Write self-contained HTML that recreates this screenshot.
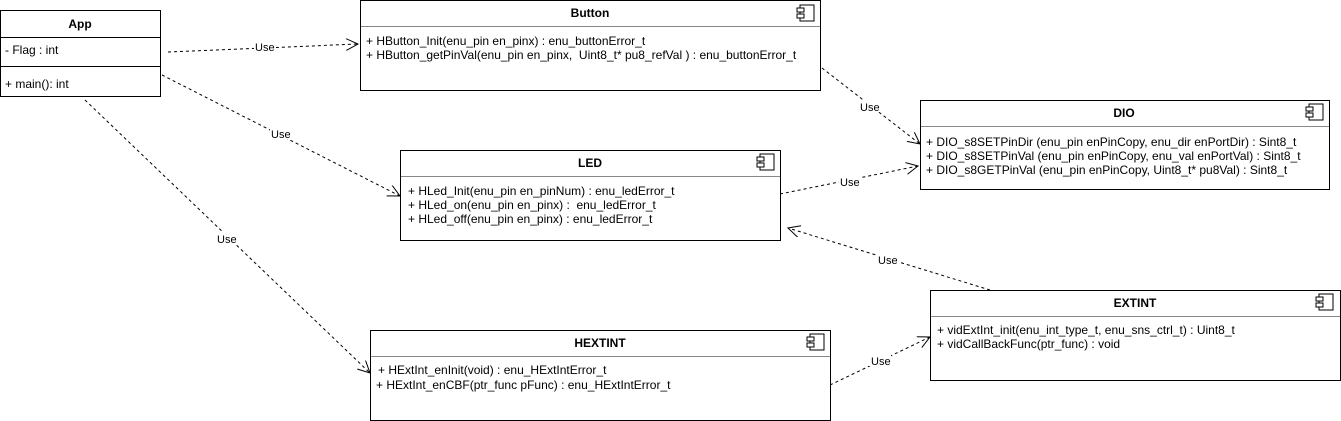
<!DOCTYPE html>
<html><head><meta charset="utf-8"><style>
html,body{margin:0;padding:0;background:#fff;}
svg{display:block;font-family:"Liberation Sans",Arial,sans-serif;}
text{font-size:12px;fill:#000;white-space:pre;}
.t{font-weight:bold;font-size:12px;}
.b{fill:#fff;stroke:#000;stroke-width:1;}
.s{stroke:#888;stroke-width:1;}
.e{stroke:#000;stroke-width:1;stroke-dasharray:3,3;fill:none;}
.a{stroke:#000;stroke-width:1;fill:none;}
.l{font-size:11px;}
</style></head><body>
<svg width="1341" height="421" viewBox="0 0 1341 421">
<defs>
<g id="ic">
<rect x="3" y="0" width="14" height="16" fill="#fff" stroke="#000"/>
<rect x="0" y="3" width="7" height="4" fill="#fff" stroke="#000"/>
<rect x="0" y="9" width="7" height="4" fill="#fff" stroke="#000"/>
</g>
<marker id="m" markerWidth="14" markerHeight="14" refX="12" refY="6" orient="auto" markerUnits="userSpaceOnUse">
<path d="M0,0 L12,6 L0,12" class="a"/>
</marker>
</defs>

<line class="e" x1="168" y1="52" x2="358" y2="44" marker-end="url(#m)"/>
<rect x="254" y="40" width="22" height="12" fill="#fff"/><text class="l" x="255" y="51">Use</text>

<line class="e" x1="162" y1="75" x2="400" y2="196" marker-end="url(#m)"/>
<rect x="270" y="127" width="22" height="12" fill="#fff"/><text class="l" x="271" y="138">Use</text>

<line class="e" x1="85" y1="100" x2="370" y2="373" marker-end="url(#m)"/>
<rect x="215" y="232" width="22" height="12" fill="#fff"/><text class="l" x="217" y="243">Use</text>

<line class="e" x1="822" y1="68" x2="920" y2="144" marker-end="url(#m)"/>
<rect x="859" y="100" width="22" height="12" fill="#fff"/><text class="l" x="860" y="111">Use</text>

<line class="e" x1="780" y1="194" x2="918" y2="166" marker-end="url(#m)"/>
<rect x="839" y="175" width="22" height="12" fill="#fff"/><text class="l" x="840" y="186">Use</text>

<line class="e" x1="990" y1="290" x2="788" y2="228" marker-end="url(#m)"/>
<rect x="877" y="253" width="22" height="12" fill="#fff"/><text class="l" x="878" y="264">Use</text>

<line class="e" x1="830" y1="385" x2="930" y2="337" marker-end="url(#m)"/>
<rect x="869" y="354" width="22" height="12" fill="#fff"/><text class="l" x="871" y="365">Use</text>

<rect class="b" x="0.5" y="10.5" width="160" height="86"/>
<line class="a" x1="0" y1="37.5" x2="161" y2="37.5"/>
<line class="a" x1="0" y1="66.5" x2="161" y2="66.5"/>
<text class="t" x="80" y="28" text-anchor="middle">App</text>
<text x="5" y="54">- Flag : int</text>
<text x="5" y="88">+ main(): int</text>

<rect class="b" x="360.5" y="0.5" width="460" height="90"/>
<line class="s" x1="361" y1="26.5" x2="820" y2="26.5"/>
<text class="t" x="590" y="17" text-anchor="middle">Button</text>
<use href="#ic" x="797" y="5"/>
<text x="366" y="45">+ HButton_Init(enu_pin en_pinx) : enu_buttonError_t</text>
<text x="366" y="59">+ HButton_getPinVal(enu_pin en_pinx,  Uint8_t* pu8_refVal ) : enu_buttonError_t</text>

<rect class="b" x="920.5" y="100.5" width="409" height="89"/>
<line class="s" x1="921" y1="126.5" x2="1329" y2="126.5"/>
<text class="t" x="1124" y="117" text-anchor="middle">DIO</text>
<use href="#ic" x="1306" y="104"/>
<text x="926" y="146">+ DIO_s8SETPinDir (enu_pin enPinCopy, enu_dir enPortDir) : Sint8_t</text>
<text x="926" y="160">+ DIO_s8SETPinVal (enu_pin enPinCopy, enu_val enPortVal) : Sint8_t</text>
<text x="926" y="174">+ DIO_s8GETPinVal (enu_pin enPinCopy, Uint8_t* pu8Val) : Sint8_t</text>

<rect class="b" x="400.5" y="150.5" width="380" height="90"/>
<line class="s" x1="401" y1="176.5" x2="780" y2="176.5"/>
<text class="t" x="590" y="167" text-anchor="middle">LED</text>
<use href="#ic" x="757" y="154"/>
<text x="408" y="195">+ HLed_Init(enu_pin en_pinNum) : enu_ledError_t</text>
<text x="408" y="209">+ HLed_on(enu_pin en_pinx) :  enu_ledError_t</text>
<text x="408" y="223">+ HLed_off(enu_pin en_pinx) : enu_ledError_t</text>

<rect class="b" x="930.5" y="290.5" width="410" height="90"/>
<line class="s" x1="931" y1="316.5" x2="1340" y2="316.5"/>
<text class="t" x="1135" y="307" text-anchor="middle">EXTINT</text>
<use href="#ic" x="1316" y="294"/>
<text x="937" y="334">+ vidExtInt_init(enu_int_type_t, enu_sns_ctrl_t) : Uint8_t</text>
<text x="937" y="348">+ vidCallBackFunc(ptr_func) : void</text>

<rect class="b" x="370.5" y="330.5" width="460" height="90"/>
<line class="s" x1="371" y1="356.5" x2="830" y2="356.5"/>
<text class="t" x="600" y="347" text-anchor="middle">HEXTINT</text>
<use href="#ic" x="807" y="334"/>
<text x="378" y="374">+ HExtInt_enInit(void) : enu_HExtIntError_t</text>
<text x="376" y="389">+ HExtInt_enCBF(ptr_func pFunc) : enu_HExtIntError_t</text>
</svg>
</body></html>
